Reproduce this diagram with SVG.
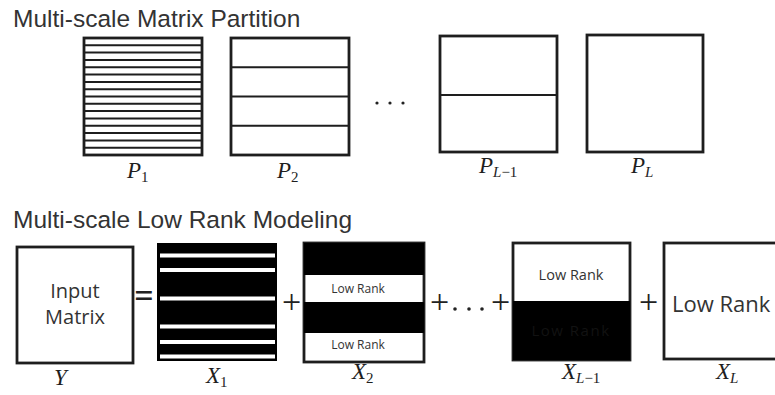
<svg xmlns="http://www.w3.org/2000/svg" width="775" height="395" viewBox="0 0 775 395">
  <style>
    .title { font-family: "Liberation Sans", Arial, sans-serif; font-size: 24.5px; fill: #333; }
    .box { fill: #fff; stroke: #1e1e1e; stroke-width: 2.8; }
    .div { stroke: #1e1e1e; stroke-width: 2; }
    .math { font-family: "Liberation Serif", "Times New Roman", serif; font-style: italic; font-size: 23px; fill: #1e1e1e; }
    .sub { font-size: 15px; font-style: normal; }
    .subi { font-size: 15px; font-style: italic; }
    .op { font-family: "Liberation Serif", "Times New Roman", serif; font-size: 34px; fill: #222; text-anchor: middle; }
    .lr { font-family: "Open Sans", "Noto Sans", sans-serif; fill: #333; text-anchor: middle; }
    .black { fill: #000; }
  </style>

  <!-- section headings -->
  <text class="title" x="13" y="27">Multi-scale Matrix Partition</text>
  <text class="title" x="13" y="228">Multi-scale Low Rank Modeling</text>

  <!-- partition P1: 16 horizontal blocks -->
  <g id="P1">
    <rect class="box" x="84" y="38" width="118" height="117"/>
    <path class="div" d="M84 45.3H202M84 52.6H202M84 59.9H202M84 67.3H202M84 74.6H202M84 81.9H202M84 89.2H202M84 96.5H202M84 103.8H202M84 111.1H202M84 118.4H202M84 125.8H202M84 133.1H202M84 140.4H202M84 147.7H202"/>
    <text class="math" x="127" y="178">P<tspan class="sub" dy="4">1</tspan></text>
  </g>

  <!-- partition P2: 4 blocks -->
  <g id="P2">
    <rect class="box" x="231" y="38" width="118" height="117"/>
    <path class="div" d="M231 67.3H349M231 96.5H349M231 125.8H349"/>
    <text class="math" x="277" y="178">P<tspan class="sub" dy="4">2</tspan></text>
  </g>

  <g id="dots-top" fill="#222">
    <circle cx="377" cy="103" r="1.6"/>
    <circle cx="390" cy="103" r="1.6"/>
    <circle cx="403" cy="103" r="1.6"/>
  </g>

  <!-- partition P_{L-1}: 2 blocks -->
  <g id="PL1">
    <rect class="box" x="440" y="36" width="117" height="116"/>
    <path class="div" d="M440 95H557"/>
    <text class="math" x="479" y="173">P<tspan class="subi" dy="4">L</tspan><tspan class="sub">−1</tspan></text>
  </g>

  <!-- partition P_L: single block -->
  <g id="PL">
    <rect class="box" x="587" y="35" width="116" height="117"/>
    <text class="math" x="631" y="173">P<tspan class="subi" dy="4">L</tspan></text>
  </g>

  <!-- input matrix Y -->
  <g id="Y">
    <rect class="box" x="17" y="247" width="116" height="116"/>
    <text class="lr" x="75" y="298" font-size="20">Input</text>
    <text class="lr" x="75" y="324" font-size="20">Matrix</text>
    <text class="math" x="54" y="385">Y</text>
  </g>

  <!-- X1: finest scale, mostly zero with thin low rank rows -->
  <g id="X1">
    <rect x="157" y="243" width="120" height="118" class="black"/>
    <g fill="#fff">
      <rect x="160" y="253.5" width="115" height="4"/>
      <rect x="160" y="268" width="115" height="4"/>
      <rect x="160" y="296.5" width="115" height="4"/>
      <rect x="160" y="324.5" width="115" height="4"/>
      <rect x="160" y="340" width="115" height="4"/>
      <rect x="160" y="354.5" width="115" height="4"/>
    </g>
    <text class="math" x="206" y="383">X<tspan class="sub" dy="4">1</tspan></text>
  </g>

  <!-- X2 -->
  <g id="X2">
    <rect class="box" x="304" y="243" width="120" height="119"/>
    <rect x="304" y="243" width="120" height="32" class="black"/>
    <rect x="304" y="302" width="120" height="31" class="black"/>
    <text class="lr" x="358" y="293" font-size="12">Low Rank</text>
    <text class="lr" x="358" y="349" font-size="12">Low Rank</text>
    <text class="math" x="352" y="379">X<tspan class="sub" dy="4">2</tspan></text>
  </g>

  <!-- X_{L-1} -->
  <g id="XL1">
    <rect class="box" x="513" y="243" width="117" height="117"/>
    <rect x="513" y="301" width="117" height="59" class="black"/>
    <text class="lr" x="571" y="280" font-size="14.5">Low Rank</text>
    <text class="lr" x="571" y="336" font-size="15" letter-spacing="1.5" style="fill:#121212">Low Rank</text>
    <text class="math" x="562" y="379">X<tspan class="subi" dy="4">L</tspan><tspan class="sub">−1</tspan></text>
  </g>

  <!-- X_L: coarsest scale -->
  <g id="XL">
    <rect class="box" x="664" y="243" width="130" height="116"/>
    <text x="672" y="312" font-family="'Open Sans', 'Noto Sans', sans-serif" font-size="22" fill="#333">Low Rank</text>
    <text class="math" x="716" y="379">X<tspan class="subi" dy="4">L</tspan></text>
  </g>

  <!-- operators between the terms -->
  <g id="operators">
    <text class="op" x="144" y="307" font-weight="bold">=</text>
    <text class="op" x="291.5" y="313">+</text>
    <text class="op" x="439.5" y="313">+</text>
    <g fill="#222">
      <circle cx="455" cy="309" r="1.8"/>
      <circle cx="469" cy="309" r="1.8"/>
      <circle cx="482" cy="309" r="1.8"/>
    </g>
    <text class="op" x="500.5" y="313">+</text>
    <text class="op" x="648.5" y="313">+</text>
  </g>
</svg>
